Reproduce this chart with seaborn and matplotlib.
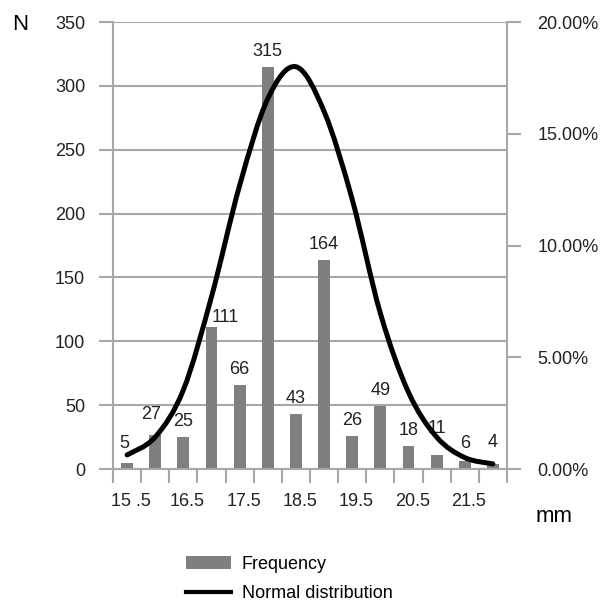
import numpy as np
import pandas as pd
import seaborn as sns
import matplotlib.pyplot as plt
from matplotlib.path import Path
from matplotlib.patches import PathPatch, Patch
from matplotlib.lines import Line2D
from matplotlib.ticker import FuncFormatter

plt.rcParams['font.family'] = ['Liberation Sans', 'DejaVu Sans']

# data
sizes = [15.5, 16.0, 16.5, 17.0, 17.5, 18.0, 18.5, 19.0, 19.5, 20.0, 20.5, 21.0, 21.5, 22.0]
freq = [5, 27, 25, 111, 66, 315, 43, 164, 26, 49, 18, 11, 6, 4]
normal_pct = [0.63, 1.43, 3.54, 7.71, 12.69, 16.57, 18.0, 16.0, 12.06, 6.97, 3.43, 1.43, 0.51, 0.23]
xtick_labels = ['15 .5', '16.5', '17.5', '18.5', '19.5', '20.5', '21.5']

df = pd.DataFrame({'size': sizes, 'freq': freq})

bar_color = '#7f7f7f'
grid_color = '#a8a8a8'
fs = 13

fig = plt.figure(figsize=(6.05, 6.08), dpi=100)
ax = fig.add_axes([0.1868, 0.2286, 0.6512, 0.7352])

sns.barplot(data=df, x='size', y='freq', color=bar_color, width=0.42,
            saturation=1, ax=ax)

ax.set_xlim(-0.5, len(sizes) - 0.5)
ax.set_ylim(0, 350)
ax.set_yticks(range(0, 351, 50))
ax.grid(axis='y', color=grid_color, lw=1.5)
ax.set_axisbelow(True)
ax.set_xlabel('')
ax.set_ylabel('')

for s in ['top', 'right']:
    ax.spines[s].set_visible(False)
for s in ['left', 'bottom']:
    ax.spines[s].set_color(grid_color)
    ax.spines[s].set_linewidth(1.5)

ax.tick_params(axis='y', length=10, width=1.5, color=grid_color, pad=10,
               labelsize=fs, labelcolor='#222222')
# category boundaries get tick marks, labels sit between them
ax.set_xticks(np.arange(-0.5, len(sizes), 1), minor=True)
ax.set_xticks(np.arange(len(xtick_labels)) * 2 + 0.15)
ax.set_xticklabels(xtick_labels)
ax.tick_params(axis='x', which='minor', length=10, width=1.5, color=grid_color)
ax.tick_params(axis='x', which='major', length=0, pad=17, labelsize=fs,
               labelcolor='#222222')

# bar value labels, a few nudged like in the original
nudge = {0: (-2, 8), 1: (-3, 8), 3: (10, 1), 11: (0, 13), 12: (0, 7), 13: (0, 9)}
for i, v in enumerate(freq):
    dx, dy = nudge.get(i, (0, 5))
    ax.annotate(str(v), (i, v), xytext=(dx, dy), textcoords='offset points',
                ha='center', va='bottom', fontsize=fs, color='#222222')

# right axis: normal distribution in percent
ax2 = ax.twinx()
ax2.set_ylim(0, 20)
ax2.set_yticks(range(0, 21, 5))
ax2.yaxis.set_major_formatter(FuncFormatter(lambda v, p: f'{v:.2f}%'))
for s in ['top', 'left', 'bottom']:
    ax2.spines[s].set_visible(False)
ax2.spines['right'].set_color(grid_color)
ax2.spines['right'].set_linewidth(1.5)
ax2.tick_params(axis='y', length=10, width=1.5, color=grid_color, pad=12,
                labelsize=fs, labelcolor='#222222')

# smoothed line through the points (Catmull-Rom style bezier, like Excel)
pts = np.column_stack([np.arange(len(normal_pct)), normal_pct])
verts = [pts[0]]
codes = [Path.MOVETO]
n = len(pts)
for i in range(n - 1):
    p0 = pts[max(i - 1, 0)]
    p1 = pts[i]
    p2 = pts[i + 1]
    p3 = pts[min(i + 2, n - 1)]
    verts += [p1 + (p2 - p0) / 6, p2 - (p3 - p1) / 6, p2]
    codes += [Path.CURVE4] * 3
curve = PathPatch(Path(verts, codes), fill=False, edgecolor='black', lw=3.6,
                  capstyle='round', joinstyle='round')
ax2.add_patch(curve)

fig.text(20 / 605, 1 - 25 / 608, 'N', fontsize=16, ha='center', va='center')
fig.text(554 / 605, 1 - 516 / 608, 'mm', fontsize=16, ha='center', va='center')

handles = [Patch(facecolor=bar_color), Line2D([], [], color='black', lw=3)]
fig.legend(handles, ['Frequency', 'Normal distribution'], loc='center left',
           bbox_to_anchor=(186 / 605, 1 - 579 / 608), frameon=False,
           handlelength=2.5, handletextpad=0.6, labelspacing=0.7,
           borderpad=0, borderaxespad=0, fontsize=fs)

fig.savefig('out.png', dpi=100)
